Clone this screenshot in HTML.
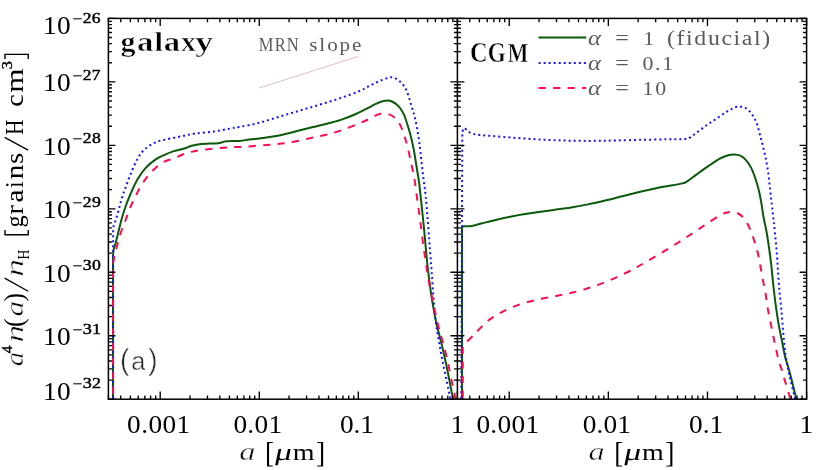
<!DOCTYPE html>
<html><head><meta charset="utf-8"><title>grain size distribution</title>
<style>html,body{margin:0;padding:0;background:#fff;}svg{display:block;will-change:transform;}text{font-family:"Liberation Serif",serif;font-kerning:none;}.sans{font-family:"Liberation Sans",sans-serif;}</style></head><body>
<svg width="830" height="470" viewBox="0 0 830 470">
<rect x="0" y="0" width="830" height="470" fill="#ffffff"/>
<defs><clipPath id="cl"><rect x="108.40" y="18.40" width="349.00" height="380.80"/></clipPath><clipPath id="cr"><rect x="457.40" y="18.40" width="349.20" height="380.80"/></clipPath></defs>
<line x1="259.27" y1="88.00" x2="357.83" y2="56.47" stroke="#dcb6b6" stroke-width="0.9"/>
<path d="M113.00 403.20 L113.00 257.00 C113.08 255.87 113.07 252.53 113.50 250.20 C113.93 247.87 114.82 245.90 115.60 243.00 C116.38 240.10 117.25 236.60 118.20 232.80 C119.15 229.00 120.10 224.50 121.30 220.20 C122.50 215.90 123.87 211.37 125.40 207.00 C126.93 202.63 128.50 198.58 130.50 194.00 C132.50 189.42 134.83 183.90 137.40 179.50 C139.97 175.10 142.78 171.00 145.90 167.60 C149.02 164.20 152.98 161.23 156.10 159.10 C159.22 156.97 161.77 156.08 164.60 154.80 C167.43 153.52 169.97 152.40 173.10 151.40 C176.23 150.40 180.27 149.73 183.40 148.80 C186.53 147.87 188.95 146.60 191.90 145.80 C194.85 145.00 198.15 144.37 201.10 144.00 C204.05 143.63 206.78 143.72 209.60 143.60 C212.42 143.48 215.20 143.68 218.00 143.30 C220.80 142.92 222.78 141.68 226.40 141.30 C230.02 140.92 235.88 141.30 239.70 141.00 C243.52 140.70 246.08 139.90 249.30 139.50 C252.52 139.10 256.38 138.90 259.00 138.60 C261.62 138.30 261.63 138.23 265.00 137.70 C268.37 137.17 274.00 136.47 279.20 135.40 C284.40 134.33 290.53 132.70 296.20 131.30 C301.87 129.90 307.80 128.35 313.20 127.00 C318.60 125.65 323.77 124.47 328.60 123.20 C333.43 121.93 337.67 120.93 342.20 119.40 C346.73 117.87 351.55 115.88 355.80 114.00 C360.05 112.12 364.45 109.75 367.70 108.10 C370.95 106.45 372.97 105.20 375.30 104.10 C377.63 103.00 379.57 102.08 381.70 101.50 C383.83 100.92 386.40 100.60 388.10 100.60 C389.80 100.60 390.42 100.82 391.90 101.50 C393.38 102.18 395.50 103.42 397.00 104.70 C398.50 105.98 399.72 107.50 400.90 109.20 C402.08 110.90 403.25 113.05 404.10 114.90 C404.95 116.75 404.98 117.12 406.00 120.30 C407.02 123.48 408.92 129.17 410.20 134.00 C411.48 138.83 412.70 144.20 413.70 149.30 C414.70 154.40 415.50 160.35 416.20 164.60 C416.90 168.85 417.38 171.53 417.90 174.80 C418.42 178.07 418.83 180.50 419.30 184.20 C419.77 187.90 420.10 191.45 420.70 197.00 C421.30 202.55 422.20 210.68 422.90 217.50 C423.60 224.32 424.28 231.32 424.90 237.90 C425.52 244.48 426.03 251.32 426.60 257.00 C427.17 262.68 427.58 266.08 428.30 272.00 C429.02 277.92 429.90 285.68 430.90 292.50 C431.90 299.32 433.28 307.32 434.30 312.90 C435.32 318.48 435.87 321.15 437.00 326.00 C438.13 330.85 439.70 336.20 441.10 342.00 C442.50 347.80 443.98 354.27 445.40 360.80 C446.82 367.33 448.33 374.82 449.60 381.20 C450.87 387.58 452.27 395.30 453.00 399.10 C453.73 402.90 453.83 403.18 454.00 404.00" fill="none" stroke="#0b5a0b" stroke-width="2.00" stroke-linejoin="round"  clip-path="url(#cl)"/>
<path d="M113.10 403.20 L113.10 232.00 C113.17 231.07 113.15 228.15 113.50 226.40 C113.85 224.65 114.63 223.18 115.20 221.50 C115.77 219.82 116.18 218.73 116.90 216.30 C117.62 213.87 118.65 210.03 119.50 206.90 C120.35 203.77 121.02 200.65 122.00 197.50 C122.98 194.35 123.98 191.85 125.40 188.00 C126.82 184.15 128.50 179.22 130.50 174.40 C132.50 169.58 135.12 163.22 137.40 159.10 C139.68 154.98 141.37 152.40 144.20 149.70 C147.03 147.00 151.00 144.55 154.40 142.90 C157.80 141.25 160.33 140.85 164.60 139.80 C168.87 138.75 174.88 137.65 180.00 136.60 C185.12 135.55 189.63 134.35 195.30 133.50 C200.97 132.65 208.33 132.30 214.00 131.50 C219.67 130.70 224.97 129.48 229.30 128.70 C233.63 127.92 235.38 127.68 240.00 126.80 C244.62 125.92 251.32 124.82 257.00 123.40 C262.68 121.98 268.42 120.00 274.10 118.30 C279.78 116.60 285.43 114.90 291.10 113.20 C296.77 111.50 302.42 109.80 308.10 108.10 C313.78 106.40 319.52 104.77 325.20 103.00 C330.88 101.23 336.53 99.48 342.20 97.50 C347.87 95.52 354.75 92.98 359.20 91.10 C363.65 89.22 365.78 87.77 368.90 86.20 C372.02 84.63 374.92 83.02 377.90 81.70 C380.88 80.38 384.47 79.05 386.80 78.30 C389.13 77.55 390.20 77.05 391.90 77.20 C393.60 77.35 395.50 78.33 397.00 79.20 C398.50 80.07 399.72 81.23 400.90 82.40 C402.08 83.57 403.15 84.82 404.10 86.20 C405.05 87.58 405.75 88.68 406.60 90.70 C407.45 92.72 408.45 95.97 409.20 98.30 C409.95 100.63 410.47 102.57 411.10 104.70 C411.73 106.83 412.43 109.22 413.00 111.10 C413.57 112.98 413.92 113.62 414.50 116.00 C415.08 118.38 415.78 121.55 416.50 125.40 C417.22 129.25 418.13 134.55 418.80 139.10 C419.47 143.65 419.93 147.88 420.50 152.70 C421.07 157.52 421.63 163.12 422.20 168.00 C422.77 172.88 423.30 177.17 423.90 182.00 C424.50 186.83 425.20 191.08 425.80 197.00 C426.40 202.92 426.93 210.40 427.50 217.50 C428.07 224.60 428.72 233.18 429.20 239.60 C429.68 246.02 429.98 250.60 430.40 256.00 C430.82 261.40 431.25 265.92 431.70 272.00 C432.15 278.08 432.62 285.97 433.10 292.50 C433.58 299.03 434.03 305.45 434.60 311.20 C435.17 316.95 435.70 321.58 436.50 327.00 C437.30 332.42 438.35 337.78 439.40 343.70 C440.45 349.62 441.52 355.97 442.80 362.50 C444.08 369.03 445.90 377.23 447.10 382.90 C448.30 388.57 449.27 392.98 450.00 396.50 C450.73 400.02 451.25 402.75 451.50 404.00" fill="none" stroke="#1414ff" stroke-width="2.00" stroke-linejoin="round" stroke-dasharray="2 3.03" clip-path="url(#cl)"/>
<path d="M113.10 403.20 L113.10 263.00 C113.60 260.75 114.90 254.30 116.10 249.50 C117.30 244.70 118.75 239.03 120.30 234.20 C121.85 229.37 123.70 225.05 125.40 220.50 C127.10 215.95 128.90 210.73 130.50 206.90 C132.10 203.07 133.28 200.93 135.00 197.50 C136.72 194.07 138.42 190.15 140.80 186.30 C143.18 182.45 145.90 178.23 149.30 174.40 C152.70 170.57 156.95 166.05 161.20 163.30 C165.45 160.55 170.25 159.70 174.80 157.90 C179.35 156.10 183.95 153.83 188.50 152.50 C193.05 151.17 197.28 150.60 202.10 149.90 C206.92 149.20 212.58 148.77 217.40 148.30 C222.22 147.83 226.95 147.33 231.00 147.10 C235.05 146.87 237.08 147.15 241.70 146.90 C246.32 146.65 253.30 146.02 258.70 145.60 C264.10 145.18 269.27 144.85 274.10 144.40 C278.93 143.95 282.88 143.67 287.70 142.90 C292.52 142.13 298.18 140.83 303.00 139.80 C307.82 138.77 312.05 137.72 316.60 136.70 C321.15 135.68 325.75 134.92 330.30 133.70 C334.85 132.48 339.08 131.12 343.90 129.40 C348.72 127.68 355.13 125.07 359.20 123.40 C363.27 121.73 365.83 120.57 368.30 119.40 C370.77 118.23 371.98 117.33 374.00 116.40 C376.02 115.47 378.05 114.20 380.40 113.80 C382.75 113.40 385.68 113.33 388.10 114.00 C390.52 114.67 392.92 116.03 394.90 117.80 C396.88 119.57 398.43 121.62 400.00 124.60 C401.57 127.58 403.02 131.87 404.30 135.70 C405.58 139.53 406.57 143.07 407.70 147.60 C408.83 152.13 409.97 157.65 411.10 162.90 C412.23 168.15 413.77 175.12 414.50 179.10 C415.23 183.08 414.90 182.40 415.50 186.80 C416.10 191.20 417.23 199.25 418.10 205.50 C418.97 211.75 419.85 217.77 420.70 224.30 C421.55 230.83 422.43 238.95 423.20 244.70 C423.97 250.45 424.53 253.68 425.30 258.80 C426.07 263.92 426.73 269.22 427.80 275.40 C428.87 281.58 430.33 289.08 431.70 295.90 C433.07 302.72 434.72 310.60 436.00 316.30 C437.28 322.00 438.12 325.25 439.40 330.10 C440.68 334.95 442.28 340.00 443.70 345.40 C445.12 350.80 446.57 356.53 447.90 362.50 C449.23 368.47 450.62 376.10 451.70 381.20 C452.78 386.30 453.60 389.30 454.40 393.10 C455.20 396.90 456.15 402.18 456.50 404.00" fill="none" stroke="#ff0a50" stroke-width="2.00" stroke-linejoin="round" stroke-dasharray="7.2 7.3" stroke-dashoffset="-9.4" clip-path="url(#cl)"/>
<path d="M462.00 403.20 L462.00 228.00 C462.17 227.72 462.52 226.58 463.00 226.30 C463.48 226.02 463.43 226.35 464.90 226.30 C466.37 226.25 468.95 226.50 471.80 226.00 C474.65 225.50 478.03 224.33 482.00 223.32 C485.97 222.30 490.50 221.11 495.60 219.92 C500.70 218.74 507.70 217.21 512.60 216.21 C517.50 215.22 520.93 214.63 525.00 213.96 C529.07 213.28 532.15 212.84 537.00 212.16 C541.85 211.48 548.42 210.67 554.10 209.89 C559.78 209.10 565.43 208.37 571.10 207.45 C576.77 206.53 582.42 205.53 588.10 204.37 C593.78 203.22 599.52 201.89 605.20 200.54 C610.88 199.18 616.53 197.68 622.20 196.25 C627.87 194.83 633.73 193.30 639.20 192.01 C644.67 190.71 650.37 189.46 655.00 188.49 C659.63 187.51 662.43 187.02 667.00 186.17 C671.57 185.32 678.98 184.23 682.40 183.40 C685.82 182.57 685.23 182.62 687.50 181.20 C689.77 179.78 692.60 177.37 696.00 174.90 C699.40 172.43 703.93 169.10 707.90 166.40 C711.87 163.70 716.40 160.55 719.80 158.70 C723.20 156.85 725.88 156.00 728.30 155.30 C730.72 154.60 732.30 154.43 734.30 154.50 C736.30 154.57 738.32 154.72 740.30 155.70 C742.28 156.68 744.37 158.33 746.20 160.40 C748.03 162.47 749.73 164.97 751.30 168.10 C752.87 171.23 754.32 175.37 755.60 179.20 C756.88 183.03 758.00 186.85 759.00 191.10 C760.00 195.35 760.85 200.38 761.60 204.70 C762.35 209.02 762.67 212.45 763.50 217.00 C764.33 221.55 765.65 226.65 766.60 232.00 C767.55 237.35 768.40 243.42 769.20 249.10 C770.00 254.78 770.75 260.43 771.40 266.10 C772.05 271.77 772.53 277.78 773.10 283.10 C773.67 288.42 774.32 294.02 774.80 298.00 C775.28 301.98 775.37 302.65 776.00 307.00 C776.63 311.35 777.60 318.42 778.60 324.10 C779.60 329.78 780.93 335.70 782.00 341.10 C783.07 346.50 783.97 352.17 785.00 356.50 C786.03 360.83 787.07 363.10 788.20 367.10 C789.33 371.10 790.48 375.35 791.80 380.50 C793.12 385.65 795.15 394.08 796.10 398.00 C797.05 401.92 797.27 403.00 797.50 404.00" fill="none" stroke="#0b5a0b" stroke-width="2.00" stroke-linejoin="round"  clip-path="url(#cr)"/>
<path d="M461.30 403.20 L462.30 132.00 C462.63 131.33 463.38 128.12 464.30 128.00 C465.22 127.88 466.60 130.43 467.80 131.30 C469.00 132.17 469.95 132.65 471.50 133.20 C473.05 133.75 473.60 134.12 477.10 134.60 C480.60 135.08 486.53 135.53 492.50 136.05 C498.47 136.57 506.08 137.20 512.90 137.71 C519.72 138.21 526.58 138.68 533.40 139.08 C540.22 139.49 547.00 139.86 553.80 140.14 C560.60 140.42 567.38 140.64 574.20 140.76 C581.02 140.88 587.82 140.91 594.70 140.86 C601.58 140.82 607.77 140.66 615.50 140.49 C623.23 140.32 632.58 140.02 641.10 139.82 C649.62 139.63 659.37 139.43 666.60 139.31 C673.83 139.19 680.67 139.37 684.50 139.10 C688.33 138.83 687.75 138.65 689.60 137.70 C691.45 136.75 692.90 135.38 695.60 133.40 C698.30 131.42 702.40 128.20 705.80 125.80 C709.20 123.40 712.53 121.33 716.00 119.00 C719.47 116.67 723.42 113.73 726.60 111.80 C729.78 109.87 732.73 108.25 735.10 107.40 C737.47 106.55 739.08 106.62 740.80 106.70 C742.52 106.78 743.93 107.13 745.40 107.90 C746.87 108.67 748.18 109.73 749.60 111.30 C751.02 112.87 752.62 115.03 753.90 117.30 C755.18 119.57 756.32 122.07 757.30 124.90 C758.28 127.73 758.95 131.12 759.80 134.30 C760.65 137.48 761.40 139.93 762.40 144.00 C763.40 148.07 764.80 153.68 765.80 158.70 C766.80 163.72 767.68 168.98 768.40 174.10 C769.12 179.22 769.53 184.30 770.10 189.40 C770.67 194.50 771.23 199.77 771.80 204.70 C772.37 209.63 772.93 213.88 773.50 219.00 C774.07 224.12 774.63 229.53 775.20 235.40 C775.77 241.27 776.42 247.95 776.90 254.20 C777.38 260.45 777.68 266.85 778.10 272.90 C778.52 278.95 778.90 284.82 779.40 290.50 C779.90 296.18 780.58 301.40 781.10 307.00 C781.62 312.60 782.02 318.42 782.50 324.10 C782.98 329.78 783.47 335.72 784.00 341.10 C784.53 346.48 785.00 351.67 785.70 356.40 C786.40 361.13 787.38 365.48 788.20 369.50 C789.02 373.52 789.60 376.25 790.60 380.50 C791.60 384.75 793.22 391.08 794.20 395.00 C795.18 398.92 796.12 402.50 796.50 404.00" fill="none" stroke="#1414ff" stroke-width="2.00" stroke-linejoin="round" stroke-dasharray="2 3.03" clip-path="url(#cr)"/>
<path d="M462.80 403.20 L462.80 346.00 C463.43 345.33 464.82 343.80 466.60 342.00 C468.38 340.20 471.60 337.12 473.50 335.20 C475.40 333.28 475.73 332.80 478.00 330.50 C480.27 328.20 483.60 324.20 487.10 321.40 C490.60 318.60 494.68 316.14 499.00 313.72 C503.32 311.29 508.07 308.83 513.00 306.84 C517.93 304.85 523.67 303.14 528.60 301.77 C533.53 300.40 537.85 299.59 542.60 298.60 C547.35 297.61 552.42 296.76 557.10 295.82 C561.78 294.89 566.02 294.09 570.70 292.98 C575.38 291.87 580.52 290.56 585.20 289.16 C589.88 287.77 594.27 286.29 598.80 284.61 C603.33 282.94 607.87 281.09 612.40 279.12 C616.93 277.15 621.90 274.80 626.00 272.79 C630.10 270.77 633.50 268.94 637.00 267.03 C640.50 265.13 643.20 263.55 647.00 261.34 C650.80 259.13 655.53 256.31 659.80 253.76 C664.07 251.20 668.48 248.56 672.60 246.02 C676.72 243.48 680.53 241.09 684.50 238.53 C688.47 235.98 692.43 233.30 696.40 230.68 C700.37 228.05 704.32 225.38 708.30 222.79 C712.28 220.19 717.17 216.81 720.30 215.10 C723.43 213.39 724.83 213.02 727.10 212.50 C729.37 211.98 731.63 211.57 733.90 212.00 C736.17 212.43 738.57 213.38 740.70 215.10 C742.83 216.82 744.95 219.48 746.70 222.30 C748.45 225.12 749.87 228.67 751.20 232.00 C752.53 235.33 753.55 238.60 754.70 242.30 C755.85 246.00 757.10 249.95 758.10 254.20 C759.10 258.45 759.85 263.27 760.70 267.80 C761.55 272.33 762.43 277.37 763.20 281.40 C763.97 285.43 764.58 287.73 765.30 292.00 C766.02 296.27 766.57 301.65 767.50 307.00 C768.43 312.35 769.77 318.42 770.90 324.10 C772.03 329.78 773.17 335.72 774.30 341.10 C775.43 346.48 776.75 352.42 777.70 356.40 C778.65 360.38 779.27 362.60 780.00 365.00 C780.73 367.40 781.23 368.02 782.10 370.80 C782.97 373.58 783.98 377.57 785.20 381.70 C786.42 385.83 788.35 391.88 789.40 395.60 C790.45 399.32 791.15 402.60 791.50 404.00" fill="none" stroke="#ff0a50" stroke-width="2.00" stroke-linejoin="round" stroke-dasharray="7.2 7.3" stroke-dashoffset="-5.6" clip-path="url(#cr)"/>
<path d="M108.40 399.20V395.40M108.40 18.40V22.20M120.78 399.20V395.40M120.78 18.40V22.20M130.38 399.20V395.40M130.38 18.40V22.20M138.22 399.20V395.40M138.22 18.40V22.20M144.85 399.20V395.40M144.85 18.40V22.20M150.60 399.20V395.40M150.60 18.40V22.20M155.67 399.20V395.40M155.67 18.40V22.20M160.20 399.20V391.60M160.20 18.40V26.00M190.02 399.20V395.40M190.02 18.40V22.20M207.47 399.20V395.40M207.47 18.40V22.20M219.84 399.20V395.40M219.84 18.40V22.20M229.44 399.20V395.40M229.44 18.40V22.20M237.29 399.20V395.40M237.29 18.40V22.20M243.92 399.20V395.40M243.92 18.40V22.20M249.67 399.20V395.40M249.67 18.40V22.20M254.73 399.20V395.40M254.73 18.40V22.20M259.27 399.20V391.60M259.27 18.40V26.00M289.09 399.20V395.40M289.09 18.40V22.20M306.53 399.20V395.40M306.53 18.40V22.20M318.91 399.20V395.40M318.91 18.40V22.20M328.51 399.20V395.40M328.51 18.40V22.20M336.36 399.20V395.40M336.36 18.40V22.20M342.99 399.20V395.40M342.99 18.40V22.20M348.73 399.20V395.40M348.73 18.40V22.20M353.80 399.20V395.40M353.80 18.40V22.20M358.33 399.20V391.60M358.33 18.40V26.00M388.16 399.20V395.40M388.16 18.40V22.20M405.60 399.20V395.40M405.60 18.40V22.20M417.98 399.20V395.40M417.98 18.40V22.20M427.58 399.20V395.40M427.58 18.40V22.20M435.42 399.20V395.40M435.42 18.40V22.20M442.05 399.20V395.40M442.05 18.40V22.20M447.80 399.20V395.40M447.80 18.40V22.20M452.87 399.20V395.40M452.87 18.40V22.20M457.40 399.20V391.60M457.40 18.40V26.00M457.40 399.20V395.40M457.40 18.40V22.20M469.78 399.20V395.40M469.78 18.40V22.20M479.39 399.20V395.40M479.39 18.40V22.20M487.24 399.20V395.40M487.24 18.40V22.20M493.88 399.20V395.40M493.88 18.40V22.20M499.62 399.20V395.40M499.62 18.40V22.20M504.69 399.20V395.40M504.69 18.40V22.20M509.23 399.20V391.60M509.23 18.40V26.00M539.07 399.20V395.40M539.07 18.40V22.20M556.52 399.20V395.40M556.52 18.40V22.20M568.91 399.20V395.40M568.91 18.40V22.20M578.51 399.20V395.40M578.51 18.40V22.20M586.36 399.20V395.40M586.36 18.40V22.20M593.00 399.20V395.40M593.00 18.40V22.20M598.75 399.20V395.40M598.75 18.40V22.20M603.82 399.20V395.40M603.82 18.40V22.20M608.35 399.20V391.60M608.35 18.40V26.00M638.19 399.20V395.40M638.19 18.40V22.20M655.65 399.20V395.40M655.65 18.40V22.20M668.03 399.20V395.40M668.03 18.40V22.20M677.64 399.20V395.40M677.64 18.40V22.20M685.49 399.20V395.40M685.49 18.40V22.20M692.12 399.20V395.40M692.12 18.40V22.20M697.87 399.20V395.40M697.87 18.40V22.20M702.94 399.20V395.40M702.94 18.40V22.20M707.48 399.20V391.60M707.48 18.40V26.00M737.32 399.20V395.40M737.32 18.40V22.20M754.77 399.20V395.40M754.77 18.40V22.20M767.15 399.20V395.40M767.15 18.40V22.20M776.76 399.20V395.40M776.76 18.40V22.20M784.61 399.20V395.40M784.61 18.40V22.20M791.25 399.20V395.40M791.25 18.40V22.20M796.99 399.20V395.40M796.99 18.40V22.20M802.06 399.20V395.40M802.06 18.40V22.20M806.60 399.20V391.60M806.60 18.40V26.00M108.40 399.20H115.40M450.40 399.20H464.40M806.60 399.20H799.60M108.40 380.09H111.90M453.90 380.09H460.90M806.60 380.09H803.10M108.40 368.92H111.90M453.90 368.92H460.90M806.60 368.92H803.10M108.40 360.99H111.90M453.90 360.99H460.90M806.60 360.99H803.10M108.40 354.84H111.90M453.90 354.84H460.90M806.60 354.84H803.10M108.40 349.81H111.90M453.90 349.81H460.90M806.60 349.81H803.10M108.40 345.56H111.90M453.90 345.56H460.90M806.60 345.56H803.10M108.40 341.88H111.90M453.90 341.88H460.90M806.60 341.88H803.10M108.40 338.64H111.90M453.90 338.64H460.90M806.60 338.64H803.10M108.40 335.73H115.40M450.40 335.73H464.40M806.60 335.73H799.60M108.40 316.63H111.90M453.90 316.63H460.90M806.60 316.63H803.10M108.40 305.45H111.90M453.90 305.45H460.90M806.60 305.45H803.10M108.40 297.52H111.90M453.90 297.52H460.90M806.60 297.52H803.10M108.40 291.37H111.90M453.90 291.37H460.90M806.60 291.37H803.10M108.40 286.35H111.90M453.90 286.35H460.90M806.60 286.35H803.10M108.40 282.10H111.90M453.90 282.10H460.90M806.60 282.10H803.10M108.40 278.42H111.90M453.90 278.42H460.90M806.60 278.42H803.10M108.40 275.17H111.90M453.90 275.17H460.90M806.60 275.17H803.10M108.40 272.27H115.40M450.40 272.27H464.40M806.60 272.27H799.60M108.40 253.16H111.90M453.90 253.16H460.90M806.60 253.16H803.10M108.40 241.99H111.90M453.90 241.99H460.90M806.60 241.99H803.10M108.40 234.06H111.90M453.90 234.06H460.90M806.60 234.06H803.10M108.40 227.91H111.90M453.90 227.91H460.90M806.60 227.91H803.10M108.40 222.88H111.90M453.90 222.88H460.90M806.60 222.88H803.10M108.40 218.63H111.90M453.90 218.63H460.90M806.60 218.63H803.10M108.40 214.95H111.90M453.90 214.95H460.90M806.60 214.95H803.10M108.40 211.70H111.90M453.90 211.70H460.90M806.60 211.70H803.10M108.40 208.80H115.40M450.40 208.80H464.40M806.60 208.80H799.60M108.40 189.69H111.90M453.90 189.69H460.90M806.60 189.69H803.10M108.40 178.52H111.90M453.90 178.52H460.90M806.60 178.52H803.10M108.40 170.59H111.90M453.90 170.59H460.90M806.60 170.59H803.10M108.40 164.44H111.90M453.90 164.44H460.90M806.60 164.44H803.10M108.40 159.41H111.90M453.90 159.41H460.90M806.60 159.41H803.10M108.40 155.16H111.90M453.90 155.16H460.90M806.60 155.16H803.10M108.40 151.48H111.90M453.90 151.48H460.90M806.60 151.48H803.10M108.40 148.24H111.90M453.90 148.24H460.90M806.60 148.24H803.10M108.40 145.33H115.40M450.40 145.33H464.40M806.60 145.33H799.60M108.40 126.23H111.90M453.90 126.23H460.90M806.60 126.23H803.10M108.40 115.05H111.90M453.90 115.05H460.90M806.60 115.05H803.10M108.40 107.12H111.90M453.90 107.12H460.90M806.60 107.12H803.10M108.40 100.97H111.90M453.90 100.97H460.90M806.60 100.97H803.10M108.40 95.95H111.90M453.90 95.95H460.90M806.60 95.95H803.10M108.40 91.70H111.90M453.90 91.70H460.90M806.60 91.70H803.10M108.40 88.02H111.90M453.90 88.02H460.90M806.60 88.02H803.10M108.40 84.77H111.90M453.90 84.77H460.90M806.60 84.77H803.10M108.40 81.87H115.40M450.40 81.87H464.40M806.60 81.87H799.60M108.40 62.76H111.90M453.90 62.76H460.90M806.60 62.76H803.10M108.40 51.59H111.90M453.90 51.59H460.90M806.60 51.59H803.10M108.40 43.66H111.90M453.90 43.66H460.90M806.60 43.66H803.10M108.40 37.51H111.90M453.90 37.51H460.90M806.60 37.51H803.10M108.40 32.48H111.90M453.90 32.48H460.90M806.60 32.48H803.10M108.40 28.23H111.90M453.90 28.23H460.90M806.60 28.23H803.10M108.40 24.55H111.90M453.90 24.55H460.90M806.60 24.55H803.10M108.40 21.30H111.90M453.90 21.30H460.90M806.60 21.30H803.10M108.40 18.40H115.40M450.40 18.40H464.40M806.60 18.40H799.60" fill="none" stroke="#000" stroke-width="1.35"/>
<rect x="108.40" y="18.40" width="698.20" height="380.80" fill="none" stroke="#000" stroke-width="1.50"/>
<line x1="457.40" y1="18.40" x2="457.40" y2="399.20" stroke="#000" stroke-width="1.50"/>
<line x1="538.6" y1="37.6" x2="586.2" y2="37.6" stroke="#0b5a0b" stroke-width="2.00"/>
<line x1="538.6" y1="63.0" x2="586.2" y2="63.0" stroke="#1414ff" stroke-width="2.00" stroke-dasharray="2 3.03"/>
<line x1="538.6" y1="88.1" x2="586.2" y2="88.1" stroke="#ff0a50" stroke-width="2.00" stroke-dasharray="7.2 7.3"/>
<text font-size="24.20" fill="#000" transform="translate(43.10 34.20) scale(1.130 1)" letter-spacing="0.3">10</text>
<text transform="translate(72.44 23.70) scale(1.132 1.000)" font-size="15.20" fill="#000" stroke="#000" stroke-width="0.3">−</text>
<text transform="translate(82.76 22.80) scale(1.153 1)" font-size="15.20" letter-spacing="0.30" fill="#000" stroke="#000" stroke-width="0.45">26</text>
<text font-size="24.20" fill="#000" transform="translate(43.10 91.27) scale(1.130 1)" letter-spacing="0.3">10</text>
<text transform="translate(72.44 80.77) scale(1.132 1.000)" font-size="15.20" fill="#000" stroke="#000" stroke-width="0.3">−</text>
<text transform="translate(82.76 79.87) scale(1.150 1)" font-size="15.20" letter-spacing="0.30" fill="#000" stroke="#000" stroke-width="0.45">27</text>
<text font-size="24.20" fill="#000" transform="translate(43.10 154.73) scale(1.130 1)" letter-spacing="0.3">10</text>
<text transform="translate(72.44 144.23) scale(1.132 1.000)" font-size="15.20" fill="#000" stroke="#000" stroke-width="0.3">−</text>
<text transform="translate(82.75 143.33) scale(1.162 1)" font-size="15.20" letter-spacing="0.30" fill="#000" stroke="#000" stroke-width="0.45">28</text>
<text font-size="24.20" fill="#000" transform="translate(43.10 218.20) scale(1.130 1)" letter-spacing="0.3">10</text>
<text transform="translate(72.44 207.70) scale(1.132 1.000)" font-size="15.20" fill="#000" stroke="#000" stroke-width="0.3">−</text>
<text transform="translate(82.75 206.80) scale(1.165 1)" font-size="15.20" letter-spacing="0.30" fill="#000" stroke="#000" stroke-width="0.45">29</text>
<text font-size="24.20" fill="#000" transform="translate(43.10 281.67) scale(1.130 1)" letter-spacing="0.3">10</text>
<text transform="translate(72.44 271.17) scale(1.132 1.000)" font-size="15.20" fill="#000" stroke="#000" stroke-width="0.3">−</text>
<text transform="translate(82.66 270.27) scale(1.168 1)" font-size="15.20" letter-spacing="0.30" fill="#000" stroke="#000" stroke-width="0.45">30</text>
<text font-size="24.20" fill="#000" transform="translate(43.10 345.13) scale(1.130 1)" letter-spacing="0.3">10</text>
<text transform="translate(72.44 334.63) scale(1.132 1.000)" font-size="15.20" fill="#000" stroke="#000" stroke-width="0.3">−</text>
<text transform="translate(82.64 333.73) scale(1.197 1)" font-size="15.20" letter-spacing="0.30" fill="#000" stroke="#000" stroke-width="0.45">31</text>
<text font-size="24.20" fill="#000" transform="translate(43.10 399.70) scale(1.130 1)" letter-spacing="0.3">10</text>
<text transform="translate(72.44 389.20) scale(1.132 1.000)" font-size="15.20" fill="#000" stroke="#000" stroke-width="0.3">−</text>
<text transform="translate(82.64 388.30) scale(1.191 1)" font-size="15.20" letter-spacing="0.30" fill="#000" stroke="#000" stroke-width="0.45">32</text>
<text font-size="24.20" fill="#000" transform="translate(127.10 432.70) scale(1.130 1)" textLength="55.84" lengthAdjust="spacing">0.001</text>
<text font-size="24.20" fill="#000" transform="translate(233.40 432.70) scale(1.130 1)" textLength="43.10" lengthAdjust="spacing">0.01</text>
<text font-size="24.20" fill="#000" transform="translate(340.00 432.70) scale(1.130 1)" textLength="30.00" lengthAdjust="spacing">0.1</text>
<text font-size="24.20" fill="#000" transform="translate(476.40 432.70) scale(1.130 1)" textLength="55.49" lengthAdjust="spacing">0.001</text>
<text font-size="24.20" fill="#000" transform="translate(582.70 432.70) scale(1.130 1)" textLength="42.74" lengthAdjust="spacing">0.01</text>
<text font-size="24.20" fill="#000" transform="translate(689.00 432.70) scale(1.130 1)" textLength="30.27" lengthAdjust="spacing">0.1</text>
<text font-size="24.20" fill="#000" transform="translate(450.40 432.70) scale(1.130 1)">1</text>
<text font-size="24.20" fill="#000" transform="translate(799.60 432.70) scale(1.130 1)">1</text>
<text transform="translate(239.33 460.20) scale(1.321 1.000)" font-size="24.50" fill="#000" font-style="italic" stroke="#fff" stroke-width="0.45">a</text>
<text transform="translate(265.08 461.95) scale(0.899 1)" font-size="30.00" fill="#000" >[</text>
<text transform="translate(316.04 461.95) scale(0.919 1)" font-size="30.00" fill="#000" >]</text>
<text transform="translate(292.74 460.20) scale(1.167 1.000)" font-size="24.00" fill="#000" >m</text>
<text transform="translate(273.49 460.2) skewX(-12) scale(1.411 1)" font-size="24.00" fill="#000">μ</text>
<text transform="translate(588.53 460.20) scale(1.321 1.000)" font-size="24.50" fill="#000" font-style="italic" stroke="#fff" stroke-width="0.45">a</text>
<text transform="translate(614.28 461.95) scale(0.899 1)" font-size="30.00" fill="#000" >[</text>
<text transform="translate(665.24 461.95) scale(0.919 1)" font-size="30.00" fill="#000" >]</text>
<text transform="translate(641.94 460.20) scale(1.167 1.000)" font-size="24.00" fill="#000" >m</text>
<text transform="translate(622.69 460.2) skewX(-12) scale(1.411 1)" font-size="24.00" fill="#000">μ</text>
<g transform="translate(23.1 0) rotate(-90)">
<text transform="translate(-366.37 0.00) scale(1.180 1.000)" font-size="24.50" fill="#000" font-style="italic" stroke="#fff" stroke-width="0.45">a</text>
<text transform="translate(-353.21 -10.70) scale(1.019 1.000)" font-size="15.20" fill="#000" stroke="#000" stroke-width="0.4">4</text>
<text transform="translate(-342.53 0.00) scale(1.439 1.000)" font-size="24.50" fill="#000" font-style="italic" stroke="#fff" stroke-width="0.45">n</text>
<text transform="translate(-327.01 0.00) scale(0.960 1.000)" font-size="27.10" fill="#000" >(</text>
<text transform="translate(-316.44 0.00) scale(1.274 1.000)" font-size="24.50" fill="#000" font-style="italic" stroke="#fff" stroke-width="0.45">a</text>
<text transform="translate(-301.42 0.00) scale(0.931 1.000)" font-size="27.10" fill="#000" >)</text>
<text transform="translate(-276.64 0.00) scale(1.449 1.000)" font-size="24.50" fill="#000" font-style="italic" stroke="#fff" stroke-width="0.45">n</text>
<text transform="translate(-259.38 5.80) scale(0.845 1.000)" font-size="16.20" fill="#000" >H</text>
<text transform="translate(-227.43 0.00) scale(0.989 1.000)" font-size="24.50" fill="#000" >g</text>
<text transform="translate(-214.47 0.00) scale(1.164 1.000)" font-size="24.50" fill="#000" >r</text>
<text transform="translate(-202.43 0.00) scale(1.199 1.000)" font-size="24.50" fill="#000" >a</text>
<text transform="translate(-187.88 0.00) scale(0.986 1.000)" font-size="24.50" fill="#000" >i</text>
<text transform="translate(-179.36 0.00) scale(1.191 1.000)" font-size="24.50" fill="#000" >n</text>
<text transform="translate(-163.96 0.00) scale(1.189 1.000)" font-size="24.50" fill="#000" >s</text>
<text transform="translate(-134.68 0.00) scale(0.866 1.000)" font-size="24.30" fill="#000" >H</text>
<text transform="translate(-106.76 0.00) scale(1.154 1.000)" font-size="24.50" fill="#000" >c</text>
<text transform="translate(-92.82 0.00) scale(1.270 1.000)" font-size="24.50" fill="#000" >m</text>
<text transform="translate(-69.37 -11.10) scale(1.069 1.000)" font-size="15.20" fill="#000" stroke="#000" stroke-width="0.4">3</text>
<line x1="-291.20" y1="5.10" x2="-278.10" y2="-18.50" stroke="#000" stroke-width="1.25"/>
<line x1="-150.10" y1="5.10" x2="-137.40" y2="-18.50" stroke="#000" stroke-width="1.25"/>
<path d="M-230.10 -18.10 H-234.70 V5.10 H-230.10" fill="none" stroke="#000" stroke-width="1.40"/>
<path d="M-59.00 -18.10 H-54.40 V5.10 H-59.00" fill="none" stroke="#000" stroke-width="1.40"/>
</g>
<text transform="translate(120.55 50.50) scale(1.136 1.000)" font-size="26.50" fill="#000" font-weight="bold" stroke="#fff" stroke-width="0.50">g</text>
<text transform="translate(136.94 50.50) scale(1.234 1.000)" font-size="26.50" fill="#000" font-weight="bold" stroke="#fff" stroke-width="0.50">a</text>
<text transform="translate(154.58 50.50) scale(1.164 1.000)" font-size="26.50" fill="#000" font-weight="bold" stroke="#fff" stroke-width="0.50">l</text>
<text transform="translate(163.84 50.50) scale(1.234 1.000)" font-size="26.50" fill="#000" font-weight="bold" stroke="#fff" stroke-width="0.50">a</text>
<text transform="translate(181.13 50.50) scale(1.088 1.000)" font-size="26.50" fill="#000" font-weight="bold" stroke="#fff" stroke-width="0.50">x</text>
<text transform="translate(195.24 50.50) scale(1.344 1.000)" font-size="26.50" fill="#000" font-weight="bold" stroke="#fff" stroke-width="0.50">y</text>
<text transform="translate(470.04 62.41) scale(0.847 1)" font-size="28.85" fill="#000" font-weight="bold" stroke="#fff" stroke-width="0.50">C</text>
<text transform="translate(487.70 62.41) scale(0.804 1)" font-size="28.85" fill="#000" font-weight="bold" stroke="#fff" stroke-width="0.50">G</text>
<text transform="translate(507.72 62.40) scale(0.773 1)" font-size="28.24" fill="#000" font-weight="bold" stroke="#fff" stroke-width="0.50">M</text>
<text transform="translate(258.85 51.40) scale(0.927 1)" font-size="17.80" letter-spacing="1.20" fill="#5a5a5a" >MRN</text>
<text transform="translate(309.25 51.40) scale(1.188 1)" font-size="17.80" letter-spacing="1.60" fill="#5a5a5a" >slope</text>
<text font-size="21.00" fill="#5a5a5a" x="588.00" y="44.80" textLength="13.00" lengthAdjust="spacingAndGlyphs" font-style="italic">α</text>
<text font-size="20.00" fill="#5a5a5a" x="615.20" y="44.80" textLength="13.60" lengthAdjust="spacingAndGlyphs">=</text>
<text font-size="19.50" fill="#5a5a5a" transform="translate(643.20 44.80) scale(1.120 1)">1</text>
<text font-size="21.00" fill="#5a5a5a" x="588.00" y="69.90" textLength="13.00" lengthAdjust="spacingAndGlyphs" font-style="italic">α</text>
<text font-size="20.00" fill="#5a5a5a" x="615.20" y="69.90" textLength="13.60" lengthAdjust="spacingAndGlyphs">=</text>
<text font-size="19.50" fill="#5a5a5a" transform="translate(642.60 69.90) scale(1.120 1)" textLength="27.23" lengthAdjust="spacing">0.1</text>
<text font-size="21.00" fill="#5a5a5a" x="588.00" y="95.40" textLength="13.00" lengthAdjust="spacingAndGlyphs" font-style="italic">α</text>
<text font-size="20.00" fill="#5a5a5a" x="615.20" y="95.40" textLength="13.60" lengthAdjust="spacingAndGlyphs">=</text>
<text font-size="19.50" fill="#5a5a5a" transform="translate(642.60 95.40) scale(1.120 1)" textLength="21.07" lengthAdjust="spacing">10</text>
<text transform="translate(666.99 44.80) scale(1.162 1)" font-size="20.50" letter-spacing="1.40" fill="#5a5a5a" >(fiducial)</text>
<text transform="translate(120.05 370.09) scale(0.933 1)" font-size="29.92" fill="#2b2b2b" class="sans" stroke="#fff" stroke-width="0.45">(</text>
<text transform="translate(131.22 369.95) scale(1.002 1)" font-size="25.39" fill="#2b2b2b" class="sans" stroke="#fff" stroke-width="0.45">a</text>
<text transform="translate(148.29 370.09) scale(0.933 1)" font-size="29.92" fill="#2b2b2b" class="sans" stroke="#fff" stroke-width="0.45">)</text>
</svg></body></html>
